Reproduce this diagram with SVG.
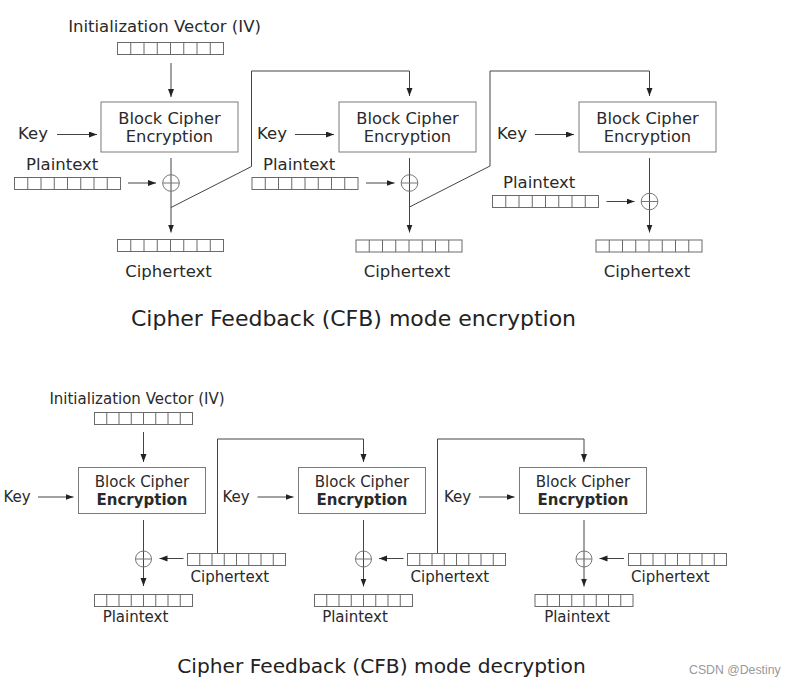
<svg xmlns="http://www.w3.org/2000/svg" xmlns:xlink="http://www.w3.org/1999/xlink" width="795" height="685" viewBox="0 0 795 685">
<style>
text{font-family:"DejaVu Sans","Verdana",sans-serif;fill:#2a2a2a}
.t16{font-size:16.5px}
.t15{font-size:15px}
.bx16{font-size:16.3px}
.c{text-anchor:middle}
.b{font-weight:bold}
.box{fill:#fff;stroke:#7a7a7a;stroke-width:1}
.reg{fill:#fff;stroke:#6a6a6a;stroke-width:1}
.cell{stroke:#6a6a6a;stroke-width:1}
.ln{fill:none;stroke:#555;stroke-width:1}
.arr{fill:none;stroke:#444;stroke-width:1;marker-end:url(#ah)}
.xor{fill:none;stroke:#777;stroke-width:1}
.title{font-size:22px;fill:#222}
.title2{font-size:20.2px;fill:#222}
.wm{font-family:"Liberation Sans",Arial,sans-serif;font-size:12.3px;fill:#999}
</style>
<defs>
<marker id="ah" markerUnits="userSpaceOnUse" markerWidth="9" markerHeight="7" refX="8" refY="3" orient="auto">
<path d="M0,0 L8,3 L0,6 z" fill="#222"/>
</marker>
<g id="regT">
<rect class="reg" x="0" y="0" width="106" height="12"/>
<path class="cell" d="M13.25,0V12M26.5,0V12M39.75,0V12M53,0V12M66.25,0V12M79.5,0V12M92.75,0V12"/>
</g>
<g id="regB">
<rect class="reg" x="0" y="0" width="98" height="12"/>
<path class="cell" d="M12.25,0V12M24.5,0V12M36.75,0V12M49,0V12M61.25,0V12M73.5,0V12M85.75,0V12"/>
</g>
</defs>
<rect width="795" height="685" fill="#fff"/>

<!-- ===== Encryption ===== -->
<g id="connectors-enc">
<line class="arr" x1="171" y1="63" x2="171" y2="97"/>
<line class="arr" x1="57" y1="134.5" x2="97" y2="134.5"/>
<line class="arr" x1="295" y1="134.5" x2="334" y2="134.5"/>
<line class="arr" x1="535" y1="134.5" x2="574" y2="134.5"/>
<line class="arr" x1="128" y1="183" x2="156" y2="183"/>
<line class="arr" x1="366" y1="183" x2="394.5" y2="183"/>
<line class="arr" x1="606.5" y1="201.5" x2="634.5" y2="201.5"/>
<line class="arr" x1="171" y1="158" x2="171" y2="232.5"/>
<line class="arr" x1="409.5" y1="158" x2="409.5" y2="232.5"/>
<line class="arr" x1="649.5" y1="158" x2="649.5" y2="232.5"/>
<polyline class="arr" points="171,207.5 251.5,166.5 251.5,71 409.5,71 409.5,96"/>
<polyline class="arr" points="409.5,207 490,166 490,71 649.5,71 649.5,96"/>
</g>

<g id="enc-iv">
<text class="t16 c" x="164.5" y="32">Initialization Vector (IV)</text>
<use xlink:href="#regT" x="117.5" y="42.5"/>
</g>

<g id="enc-block1">
<rect class="box" x="101" y="102" width="137" height="50"/>
<text class="bx16 c" x="169.5" y="123.5">Block Cipher</text>
<text class="bx16 c" x="169.5" y="142">Encryption</text>
</g>
<g id="enc-block2">
<rect class="box" x="339" y="102" width="137" height="50"/>
<text class="bx16 c" x="407.5" y="123.5">Block Cipher</text>
<text class="bx16 c" x="407.5" y="142">Encryption</text>
</g>
<g id="enc-block3">
<rect class="box" x="579" y="102" width="137" height="50"/>
<text class="bx16 c" x="647.5" y="123.5">Block Cipher</text>
<text class="bx16 c" x="647.5" y="142">Encryption</text>
</g>

<g id="enc-key1"><text class="t16" x="18" y="139">Key</text></g>
<g id="enc-key2"><text class="t16" x="257" y="139">Key</text></g>
<g id="enc-key3"><text class="t16" x="497" y="139">Key</text></g>

<g id="enc-pt1">
<text class="t16" x="26" y="170">Plaintext</text>
<use xlink:href="#regT" x="14.5" y="177.5"/>
</g>
<g id="enc-pt2">
<text class="t16" x="263" y="170">Plaintext</text>
<use xlink:href="#regT" x="252" y="177.5"/>
</g>
<g id="enc-pt3">
<text class="t16" x="503" y="188">Plaintext</text>
<use xlink:href="#regT" x="492.5" y="195.5"/>
</g>

<g id="enc-xor1"><circle class="xor" cx="171" cy="183" r="8.3"/><line class="xor" x1="162.7" y1="183" x2="179.3" y2="183"/></g>
<g id="enc-xor2"><circle class="xor" cx="409.5" cy="183" r="8.3"/><line class="xor" x1="401.2" y1="183" x2="417.8" y2="183"/></g>
<g id="enc-xor3"><circle class="xor" cx="649.5" cy="201.5" r="8.3"/><line class="xor" x1="641.2" y1="201.5" x2="657.8" y2="201.5"/></g>

<g id="enc-ct1">
<use xlink:href="#regT" x="117.5" y="239.5"/>
<text class="t16 c" x="168.5" y="277">Ciphertext</text>
</g>
<g id="enc-ct2">
<use xlink:href="#regT" x="356" y="240"/>
<text class="t16 c" x="407" y="277">Ciphertext</text>
</g>
<g id="enc-ct3">
<use xlink:href="#regT" x="596" y="240"/>
<text class="t16 c" x="647" y="277">Ciphertext</text>
</g>

<text id="title-enc" class="title c" x="353.5" y="326">Cipher Feedback (CFB) mode encryption</text>

<!-- ===== Decryption ===== -->
<g id="connectors-dec">
<line class="arr" x1="143.5" y1="432" x2="143.5" y2="462"/>
<line class="arr" x1="38" y1="497" x2="73.5" y2="497"/>
<line class="arr" x1="257.5" y1="497" x2="293.5" y2="497"/>
<line class="arr" x1="479" y1="497" x2="514.5" y2="497"/>
<line class="arr" x1="143.5" y1="520" x2="143.5" y2="586"/>
<line class="arr" x1="363.5" y1="520" x2="363.5" y2="586.5"/>
<line class="arr" x1="584" y1="520" x2="584" y2="586.5"/>
<line class="arr" x1="183.5" y1="558.5" x2="159.5" y2="558.5"/>
<line class="arr" x1="403.5" y1="558.5" x2="379" y2="558.5"/>
<line class="arr" x1="624" y1="558.5" x2="599.5" y2="558.5"/>
<polyline class="arr" points="217.5,553.5 217.5,439 363.5,439 363.5,462"/>
<polyline class="arr" points="437.5,553.5 437.5,439 584,439 584,462"/>
</g>

<g id="dec-iv">
<text class="t15 c" x="137" y="403.5">Initialization Vector (IV)</text>
<use xlink:href="#regB" x="94.5" y="412.5"/>
</g>

<g id="dec-block1">
<rect class="box" x="78.5" y="467.5" width="127" height="46"/>
<text class="t15 c" x="142" y="487">Block Cipher</text>
<text class="t15 c b" x="142" y="504.5">Encryption</text>
</g>
<g id="dec-block2">
<rect class="box" x="298.5" y="467.5" width="127" height="46"/>
<text class="t15 c" x="362" y="487">Block Cipher</text>
<text class="t15 c b" x="362" y="504.5">Encryption</text>
</g>
<g id="dec-block3">
<rect class="box" x="519.5" y="467.5" width="127" height="46"/>
<text class="t15 c" x="583" y="487">Block Cipher</text>
<text class="t15 c b" x="583" y="504.5">Encryption</text>
</g>

<g id="dec-key1"><text class="t15" x="3.5" y="502">Key</text></g>
<g id="dec-key2"><text class="t15" x="222.5" y="502">Key</text></g>
<g id="dec-key3"><text class="t15" x="444" y="502">Key</text></g>

<g id="dec-xor1"><circle class="xor" cx="143.5" cy="559" r="8"/><line class="xor" x1="135.5" y1="559" x2="151.5" y2="559"/></g>
<g id="dec-xor2"><circle class="xor" cx="363.5" cy="559" r="8"/><line class="xor" x1="355.5" y1="559" x2="371.5" y2="559"/></g>
<g id="dec-xor3"><circle class="xor" cx="584" cy="559" r="8"/><line class="xor" x1="576" y1="559" x2="592" y2="559"/></g>

<g id="dec-ct1">
<use xlink:href="#regB" x="187.5" y="553.5"/>
<text class="t15" x="190.5" y="581.5">Ciphertext</text>
</g>
<g id="dec-ct2">
<use xlink:href="#regB" x="407.5" y="553.5"/>
<text class="t15" x="410.5" y="581.5">Ciphertext</text>
</g>
<g id="dec-ct3">
<use xlink:href="#regB" x="628.5" y="553.5"/>
<text class="t15" x="631" y="581.5">Ciphertext</text>
</g>

<g id="dec-pt1">
<use xlink:href="#regB" x="94.5" y="594.5"/>
<text class="t15 c" x="135.5" y="621.5">Plaintext</text>
</g>
<g id="dec-pt2">
<use xlink:href="#regB" x="314.5" y="594.5"/>
<text class="t15 c" x="355" y="621.5">Plaintext</text>
</g>
<g id="dec-pt3">
<use xlink:href="#regB" x="535" y="594.5"/>
<text class="t15 c" x="577" y="621.5">Plaintext</text>
</g>

<text id="title-dec" class="title2 c" x="381.5" y="673">Cipher Feedback (CFB) mode decryption</text>
<text id="watermark" class="wm" x="689" y="673.5">CSDN @Destiny</text>
</svg>
